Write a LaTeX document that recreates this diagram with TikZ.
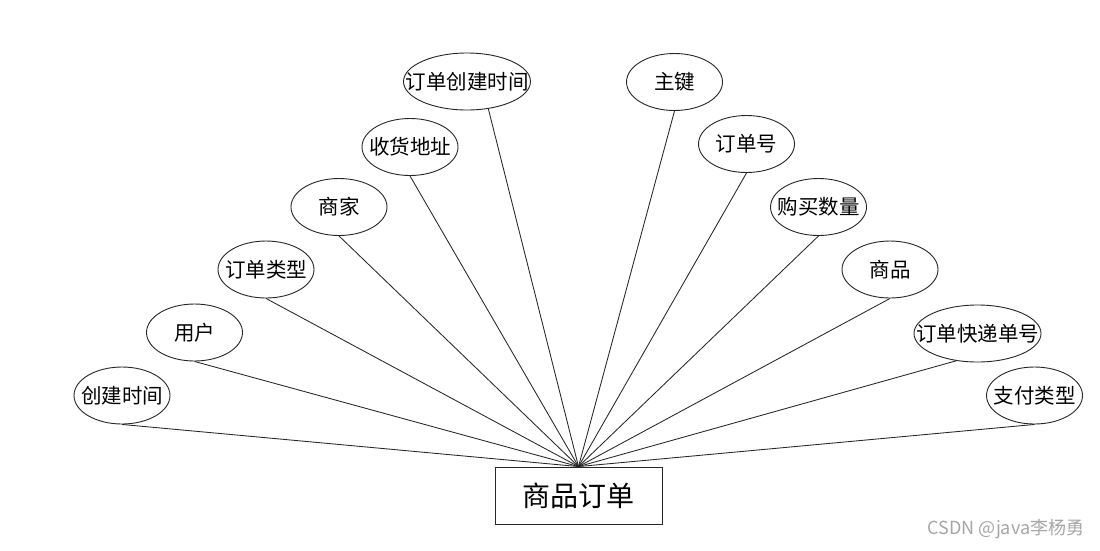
\documentclass[tikz,border=0pt]{standalone}
\usepackage{fontspec}
\setmainfont{Noto Sans CJK SC}
\usetikzlibrary{shapes.geometric}
\newcommand\attrtext[1]{\makebox[0pt]{#1}}
\begin{document}
\begin{tikzpicture}[x=1pt,y=-1pt,
  attr/.style={ellipse, draw=black!85, line width=0.9pt, minimum width=96pt, minimum height=57pt, inner sep=0pt, font=\fontsize{20.5}{20.5}\selectfont},
  wideattr/.style={attr, minimum width=127pt},
  entity/.style={rectangle, draw=black!85, line width=0.9pt, minimum width=167pt, minimum height=57pt, inner sep=0pt, font=\fontsize{28}{28}\selectfont},
  link/.style={draw=black!85, line width=0.85pt},
  mark text/.style={text=black!35, font=\fontsize{18}{18}\selectfont}]
\useasboundingbox (0,0) rectangle (1100,550);
\fill[white] (0,0) rectangle (1100,550);

\node[entity] (m) at (578.5,495.5) {商品订单};

\node[attr] (a1) at (122,395.5) {\attrtext{创建时间}};
\node[attr] (a2) at (194.5,332.5) {\attrtext{用户}};
\node[attr] (a3) at (266,269.5) {\attrtext{订单类型}};
\node[attr] (a4) at (339,207) {\attrtext{商家}};
\node[attr] (a5) at (410,147) {\attrtext{收货地址}};
\node[wideattr] (a6) at (467,81.5) {\attrtext{订单创建时间}};

\node[attr] (b1) at (674.5,82) {\attrtext{主键}};
\node[attr] (b2) at (746.5,144) {\attrtext{订单号}};
\node[attr] (b3) at (818.5,207) {\attrtext{购买数量}};
\node[attr] (b4) at (890,269.5) {\attrtext{商品}};
\node[wideattr] (b5) at (977.5,333.5) {\attrtext{订单快递单号}};
\node[attr] (b6) at (1034.5,395.5) {\attrtext{支付类型}};

\draw[link] (a1.south) -- (m.north);
\draw[link] (a2.south) -- (m.north);
\draw[link] (a3.south) -- (m.north);
\draw[link] (a4.south) -- (m.north);
\draw[link] (a5.south) -- (m.north);
\draw[link] (a6.-52) -- (m.north);
\draw[link] (b1.south) -- (m.north);
\draw[link] (b2.south) -- (m.north);
\draw[link] (b3.south) -- (m.north);
\draw[link] (b4.south) -- (m.north);
\draw[link] (b5.-128) -- (m.north);
\draw[link] (b6.south) -- (m.north);

\node[mark text] (wm) at (1006,529) {CSDN @java李杨勇};
\end{tikzpicture}
\end{document}
